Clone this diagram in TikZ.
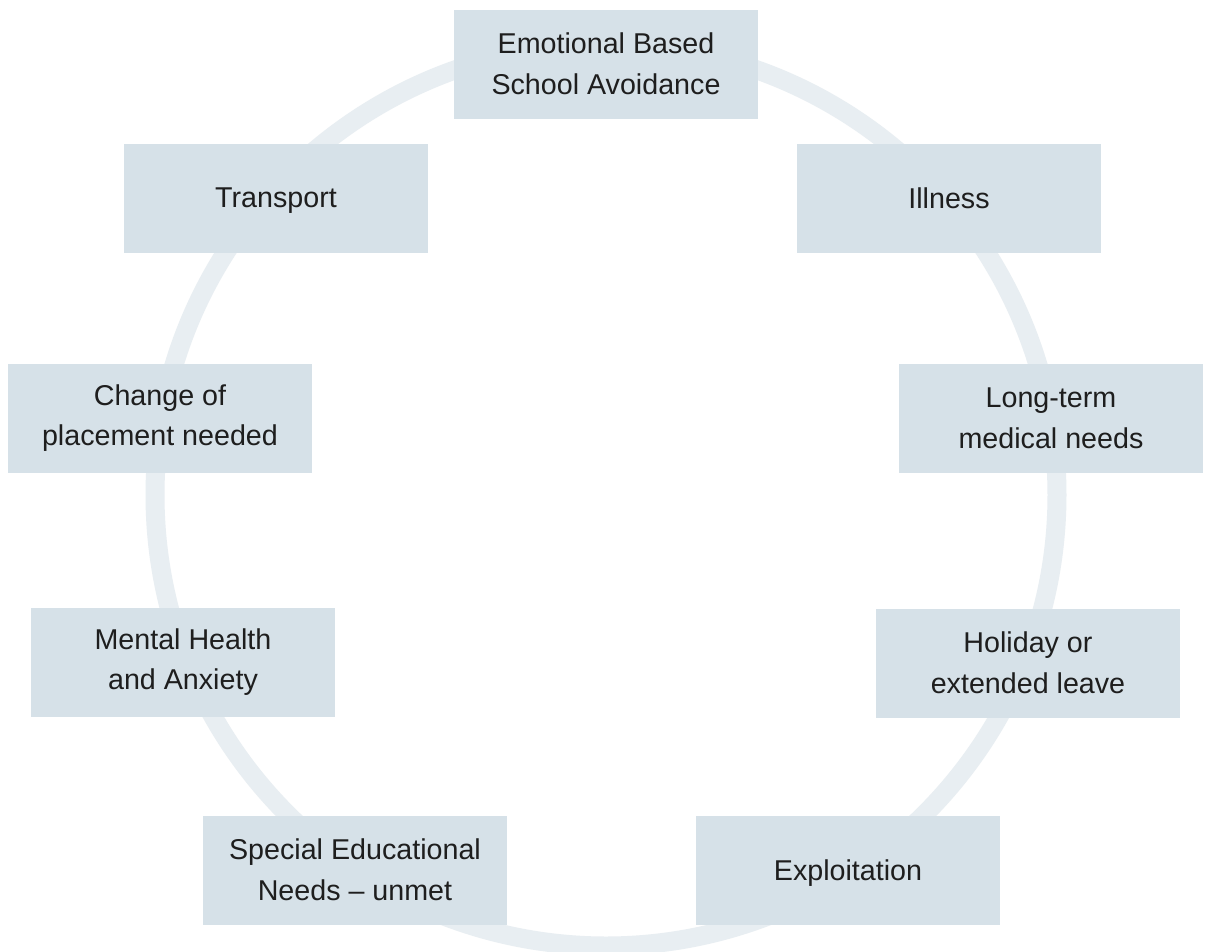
\documentclass[tikz,border=0pt]{standalone}
\usepackage{fontspec}
\setmainfont{Liberation Sans}
\definecolor{boxfill}{HTML}{D6E1E8}
\definecolor{ringcol}{HTML}{E8EEF2}
\definecolor{txtcol}{HTML}{1E1E1E}
\begin{document}
\begin{tikzpicture}[x=0.75pt,y=-0.75pt,
  itembox/.style={draw=none,fill=boxfill,minimum width=228pt,minimum height=81.75pt,
    inner sep=0pt,align=center,text=txtcol,
    font=\fontsize{21.5}{30.5}\selectfont},
  oneline/.style={itembox,text depth=0pt},
  ringline/.style={draw=ringcol,line width=14.25pt}]
\useasboundingbox (0,0) rectangle (1208,951);
\clip (0,0) rectangle (1208,951);
\fill[white] (0,0) rectangle (1208,951);
\coordinate (c) at (606,495);
\draw[ringline] (c) circle[radius=338.25pt];
\node[itembox] (ebsa) at (606,64) {Emotional Based\\School Avoidance};
\node[oneline] (trans) at (276,198) {Transport};
\node[oneline] (ill) at (949,198) {Illness};
\node[itembox] (chg) at (160,418) {Change of\\placement needed};
\node[itembox] (ltm) at (1051,418) {Long-term\\medical needs};
\node[itembox] (mh) at (183,662) {Mental Health\\and Anxiety};
\node[itembox] (hol) at (1028,663) {Holiday or\\extended leave};
\node[itembox] (sen) at (355,870) {Special Educational\\Needs -- unmet};
\node[oneline] (exp) at (848,870) {Exploitation};
\end{tikzpicture}
\end{document}
